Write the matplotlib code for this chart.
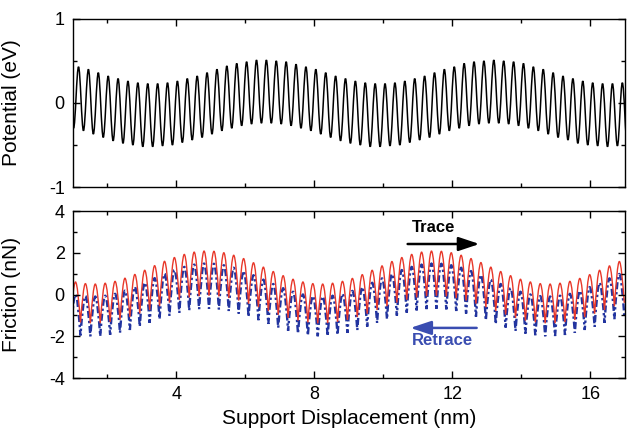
import numpy as np
import matplotlib
matplotlib.use("Agg")
import matplotlib.pyplot as plt
from matplotlib.path import Path
from matplotlib.patches import PathPatch
from matplotlib.ticker import MultipleLocator

plt.rcParams["font.family"] = ["Liberation Sans", "DejaVu Sans"]
plt.rcParams["axes.unicode_minus"] = False

# Potential: successive troughs and crests (eV), starting with a trough
pot_x0 = 1.017
half_period = 0.1433
pot_peaks = [0.43, 0.40, 0.36, 0.32, 0.29, 0.26, 0.24, 0.23, 0.23, 0.24,
             0.26, 0.29, 0.32, 0.36, 0.40, 0.44, 0.47, 0.49, 0.51, 0.51,
             0.50, 0.49, 0.46, 0.43, 0.40, 0.36, 0.32, 0.29, 0.26, 0.24,
             0.23, 0.23, 0.24, 0.26, 0.29, 0.32, 0.36, 0.40, 0.43, 0.47,
             0.49, 0.50, 0.51, 0.50, 0.49, 0.47, 0.43, 0.40, 0.36, 0.32,
             0.29, 0.26, 0.24, 0.23, 0.23, 0.24]
pot_troughs = [-0.30,
               -0.33, -0.37, -0.41, -0.45, -0.48, -0.50, -0.52, -0.52, -0.51, -0.50,
               -0.47, -0.44, -0.41, -0.37, -0.33, -0.30, -0.27, -0.25, -0.24, -0.24,
               -0.25, -0.27, -0.30, -0.33, -0.37, -0.41, -0.45, -0.48, -0.50, -0.52,
               -0.52, -0.51, -0.50, -0.47, -0.44, -0.41, -0.37, -0.33, -0.30, -0.27,
               -0.25, -0.24, -0.24, -0.25, -0.27, -0.30, -0.33, -0.37, -0.41, -0.44,
               -0.48, -0.50, -0.51, -0.52, -0.51, -0.50]

# Friction (nN): trace and retrace, troughs and crests
fric_x0 = 0.930
trace_peaks = [0.60, 0.52, 0.50, 0.54, 0.63, 0.78, 0.96, 1.16, 1.38, 1.59,
               1.77, 1.92, 2.03, 2.08, 2.07, 2.00, 1.88, 1.72, 1.52, 1.31,
               1.10, 0.90, 0.73, 0.60, 0.52, 0.50, 0.54, 0.63, 0.77, 0.95,
               1.16, 1.37, 1.58, 1.77, 1.92, 2.03, 2.08, 2.07, 2.00, 1.88,
               1.72, 1.53, 1.31, 1.10, 0.90, 0.73, 0.60, 0.52, 0.50, 0.54,
               0.63, 0.77, 0.95, 1.16, 1.37, 1.58]
trace_troughs = [-1.25,
                 -1.34, -1.38, -1.37, -1.31, -1.21, -1.08, -0.91, -0.74, -0.56, -0.39,
                 -0.25, -0.14, -0.08, -0.06, -0.09, -0.17, -0.29, -0.44, -0.61, -0.79,
                 -0.97, -1.12, -1.25, -1.34, -1.38, -1.37, -1.31, -1.22, -1.08, -0.92,
                 -0.74, -0.56, -0.39, -0.25, -0.14, -0.08, -0.06, -0.09, -0.17, -0.29,
                 -0.44, -0.61, -0.79, -0.96, -1.12, -1.25, -1.33, -1.38, -1.37, -1.32,
                 -1.22, -1.08, -0.92, -0.74, -0.56, -0.40]
retrace_peaks = [0.00, -0.08, -0.10, -0.06, 0.03, 0.18, 0.36, 0.56, 0.78, 0.99,
                 1.17, 1.32, 1.43, 1.48, 1.47, 1.40, 1.28, 1.12, 0.92, 0.71,
                 0.50, 0.30, 0.13, 0.00, -0.08, -0.10, -0.06, 0.03, 0.17, 0.35,
                 0.56, 0.77, 0.98, 1.17, 1.32, 1.43, 1.48, 1.47, 1.40, 1.28,
                 1.12, 0.93, 0.71, 0.50, 0.30, 0.13, 0.00, -0.08, -0.10, -0.06,
                 0.03, 0.17, 0.35, 0.56, 0.77, 0.98]
retrace_troughs = [-1.87,
                   -1.96, -2.00, -1.99, -1.93, -1.83, -1.70, -1.53, -1.36, -1.18, -1.01,
                   -0.87, -0.76, -0.70, -0.68, -0.71, -0.79, -0.91, -1.06, -1.23, -1.41,
                   -1.59, -1.74, -1.87, -1.96, -2.00, -1.99, -1.93, -1.84, -1.70, -1.54,
                   -1.36, -1.18, -1.01, -0.87, -0.76, -0.70, -0.68, -0.71, -0.79, -0.91,
                   -1.06, -1.23, -1.41, -1.58, -1.74, -1.87, -1.95, -2.00, -1.99, -1.94,
                   -1.84, -1.70, -1.54, -1.36, -1.18, -1.02]

x_ticks = [4, 8, 12, 16]
pot_ticks = [-1, 0, 1]
fric_ticks = [-4, -2, 0, 2, 4]

RED = "#e8382a"
BLUE = "#22349f"
BLUE_TEXT = "#3a4db1"


def extrema(x0, troughs, peaks):
  ys = np.empty(len(troughs) + len(peaks))
  ys[0::2] = troughs
  ys[1::2] = peaks
  xs = x0 + half_period * np.arange(len(ys))
  return xs, ys


def wave_path(xs, ys, cusp=False):
  # Bezier segments between extrema; "cusp" makes rounded crests with sharp troughs
  verts = [(xs[0], ys[0])]
  codes = [Path.MOVETO]
  for xa, ya, xb, yb in zip(xs[:-1], ys[:-1], xs[1:], ys[1:]):
    h = xb - xa
    if not cusp:
      c1 = (xa + 0.364 * h, ya)
      c2 = (xb - 0.364 * h, yb)
    elif ya > yb:
      c1 = (xa + h / 3, ya)
      c2 = (xb - h / 3, yb + 0.524 * (ya - yb))
    else:
      c1 = (xa + h / 3, ya + 0.524 * (yb - ya))
      c2 = (xb - h / 3, yb)
    verts += [c1, c2, (xb, yb)]
    codes += [Path.CURVE4] * 3
  return Path(verts, codes)


def style_axes(ax):
  ax.set_xlim(1, 17)
  ax.xaxis.set_major_locator(MultipleLocator(4))
  ax.xaxis.set_minor_locator(MultipleLocator(2))
  ax.tick_params(which="both", direction="in", top=True, right=True,
                 labelsize=13, width=1.0)
  ax.tick_params(which="major", length=5, pad=6)
  ax.tick_params(which="minor", length=3)
  for spine in ax.spines.values():
    spine.set_linewidth(1.0)
  ax.yaxis.set_label_coords(-0.095, 0.5)


fig = plt.figure(figsize=(6.27, 4.40), dpi=100)
ax_top = fig.add_axes([0.1164, 0.575, 0.8804, 0.382])
ax_bot = fig.add_axes([0.1164, 0.1409, 0.8804, 0.3795])

# Potential panel
xs, ys = extrema(pot_x0, pot_troughs, pot_peaks)
ax_top.add_patch(PathPatch(wave_path(xs, ys), fill=False, ec="black", lw=1.1))
style_axes(ax_top)
ax_top.set_ylim(-1, 1)
ax_top.set_yticks(pot_ticks)
ax_top.yaxis.set_minor_locator(MultipleLocator(0.5))
ax_top.set_xticks(x_ticks)
ax_top.tick_params(labelbottom=False)
ax_top.set_ylabel("Potential (eV)", fontsize=15)

# Friction panel
xs, ys = extrema(fric_x0, retrace_troughs, retrace_peaks)
ax_bot.add_patch(PathPatch(wave_path(xs, ys, cusp=True), fill=False, ec=BLUE,
                           lw=1.7, linestyle=(0, (3.0, 1.2, 1.0, 1.2))))
xs, ys = extrema(fric_x0, trace_troughs, trace_peaks)
ax_bot.add_patch(PathPatch(wave_path(xs, ys, cusp=True), fill=False, ec=RED,
                           lw=1.0))
style_axes(ax_bot)
ax_bot.set_ylim(-4, 4)
ax_bot.set_yticks(fric_ticks)
ax_bot.yaxis.set_minor_locator(MultipleLocator(1))
ax_bot.set_xticks(x_ticks)
ax_bot.set_ylabel("Friction (nN)", fontsize=15)
ax_bot.set_xlabel("Support Displacement (nm)", fontsize=15, labelpad=4)

# Direction arrows
ax_bot.annotate("", xy=(12.78, 2.42), xytext=(10.70, 2.42),
                arrowprops=dict(arrowstyle="-|>,head_length=0.9,head_width=0.3",
                                color="black", lw=1.8, mutation_scale=14,
                                shrinkA=0, shrinkB=0))
ax_bot.text(11.45, 3.2, "Trace", fontsize=12, fontweight="bold",
            ha="center", va="center")
ax_bot.annotate("", xy=(10.78, -1.6), xytext=(12.70, -1.6),
                arrowprops=dict(arrowstyle="-|>,head_length=0.9,head_width=0.3",
                                color=BLUE_TEXT, lw=1.8, mutation_scale=14,
                                shrinkA=0, shrinkB=0))
ax_bot.text(11.72, -2.22, "Retrace", fontsize=12, fontweight="bold",
            color=BLUE_TEXT, ha="center", va="center")

fig.savefig("out.png", dpi=100)
